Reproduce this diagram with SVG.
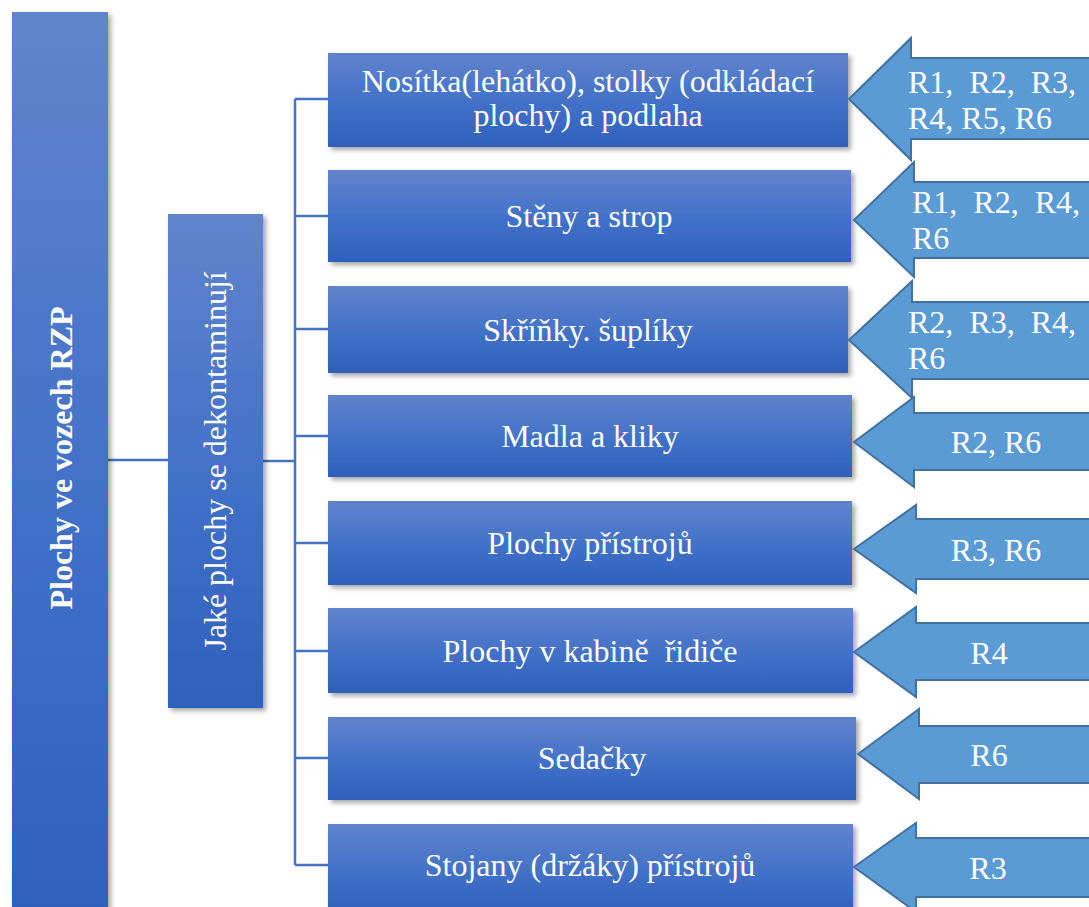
<svg xmlns="http://www.w3.org/2000/svg" width="1089" height="907" viewBox="0 0 1089 907">
  <defs>
    <linearGradient id="boxFill" x1="0" y1="0" x2="0" y2="1">
      <stop offset="0" stop-color="#6184cc"/>
      <stop offset="0.5" stop-color="#4472c8"/>
      <stop offset="1" stop-color="#2f60be"/>
    </linearGradient>
    <filter id="shadow" x="-10%" y="-10%" width="130%" height="130%">
      <feDropShadow dx="3" dy="3" stdDeviation="2.5" flood-color="#000" flood-opacity="0.35"/>
    </filter>
  </defs>
  <style>
    .box { fill: url(#boxFill); filter: url(#shadow); }
    .lbl { fill: #ffffff; font-family: "Liberation Serif", "Times New Roman", serif; font-size: 32px; }
    .mid { text-anchor: middle; }
    .arrow { fill: #5b9bd5; stroke: #41719c; stroke-width: 2; stroke-linejoin: miter; }
    .conn { fill: none; stroke: #4472c4; stroke-width: 2.5; }
  </style>
  <rect width="1089" height="907" fill="#ffffff"/>

  <!-- tree connectors -->
  <g id="connectors" class="conn">
    <path d="M108 460 H168"/>
    <path d="M263 461 H295"/>
    <path d="M295 99 V865"/>
    <path d="M295 99 H328"/>
    <path d="M295 216 H328"/>
    <path d="M295 329 H328"/>
    <path d="M295 436 H328"/>
    <path d="M295 543 H328"/>
    <path d="M295 651 H328"/>
    <path d="M295 758 H328"/>
    <path d="M295 865 H328"/>
  </g>

  <!-- root -->
  <g id="root">
    <rect class="box" x="12" y="12" width="96" height="905"/>
    <text class="lbl mid" font-size="36" font-weight="bold" transform="translate(72 458) rotate(-90)">Plochy ve vozech RZP</text>
  </g>

  <!-- question -->
  <g id="question">
    <rect class="box" x="168" y="214" width="95" height="494"/>
    <text class="lbl mid" transform="translate(226 461) rotate(-90)">Jaké plochy se dekontaminují</text>
  </g>

  <!-- surfaces -->
  <g id="surface-1">
    <rect class="box" x="328" y="53" width="520" height="94"/>
    <text class="lbl mid" x="588" y="92">Nosítka(lehátko), stolky (odkládací</text>
    <text class="lbl mid" x="588" y="126">plochy) a podlaha</text>
  </g>
  <g id="surface-2">
    <rect class="box" x="328" y="170" width="523" height="92"/>
    <text class="lbl mid" x="589" y="227">Stěny a strop</text>
  </g>
  <g id="surface-3">
    <rect class="box" x="328" y="286" width="520" height="87"/>
    <text class="lbl mid" x="588" y="341">Skříňky. šuplíky</text>
  </g>
  <g id="surface-4">
    <rect class="box" x="328" y="395" width="524" height="82"/>
    <text class="lbl mid" x="590" y="447">Madla a kliky</text>
  </g>
  <g id="surface-5">
    <rect class="box" x="328" y="501" width="524" height="84"/>
    <text class="lbl mid" x="590" y="554">Plochy přístrojů</text>
  </g>
  <g id="surface-6">
    <rect class="box" x="328" y="608" width="525" height="85"/>
    <text class="lbl mid" x="590" y="662" xml:space="preserve">Plochy v kabině  řidiče</text>
  </g>
  <g id="surface-7">
    <rect class="box" x="328" y="717" width="528" height="83"/>
    <text class="lbl mid" x="592" y="769">Sedačky</text>
  </g>
  <g id="surface-8">
    <rect class="box" x="328" y="824" width="525" height="90"/>
    <text class="lbl mid" x="590" y="876">Stojany (držáky) přístrojů</text>
  </g>

  <!-- responsibility arrows -->
  <g id="arrow-1">
    <path class="arrow" d="M849 99 L911 38 V58 H1095 V139 H911 V160 Z"/>
    <text class="lbl" x="908" y="93" xml:space="preserve">R1,  R2,  R3,</text>
    <text class="lbl" x="908" y="129">R4, R5, R6</text>
  </g>
  <g id="arrow-2">
    <path class="arrow" d="M854 220 L914 162 V182 H1095 V258 H914 V277 Z"/>
    <text class="lbl" x="912" y="213" xml:space="preserve">R1,  R2,  R4,</text>
    <text class="lbl" x="912" y="249">R6</text>
  </g>
  <g id="arrow-3">
    <path class="arrow" d="M849 340 L912 281 V302 H1095 V379 H912 V398 Z"/>
    <text class="lbl" x="908" y="333" xml:space="preserve">R2,  R3,  R4,</text>
    <text class="lbl" x="908" y="369">R6</text>
  </g>
  <g id="arrow-4">
    <path class="arrow" d="M854 442 L914 397 V413 H1095 V470 H914 V487 Z"/>
    <text class="lbl mid" x="996" y="453">R2, R6</text>
  </g>
  <g id="arrow-5">
    <path class="arrow" d="M854 549 L916 505 V519 H1095 V579 H916 V593 Z"/>
    <text class="lbl mid" x="996" y="561">R3, R6</text>
  </g>
  <g id="arrow-6">
    <path class="arrow" d="M854 652 L916 607 V623 H1095 V680 H916 V697 Z"/>
    <text class="lbl mid" x="989" y="664">R4</text>
  </g>
  <g id="arrow-7">
    <path class="arrow" d="M858 754 L919 709 V726 H1095 V783 H919 V799 Z"/>
    <text class="lbl mid" x="989" y="766">R6</text>
  </g>
  <g id="arrow-8">
    <path class="arrow" d="M854 867 L916 823 V838 H1095 V897 H916 V912 Z"/>
    <text class="lbl mid" x="988" y="879">R3</text>
  </g>
</svg>
